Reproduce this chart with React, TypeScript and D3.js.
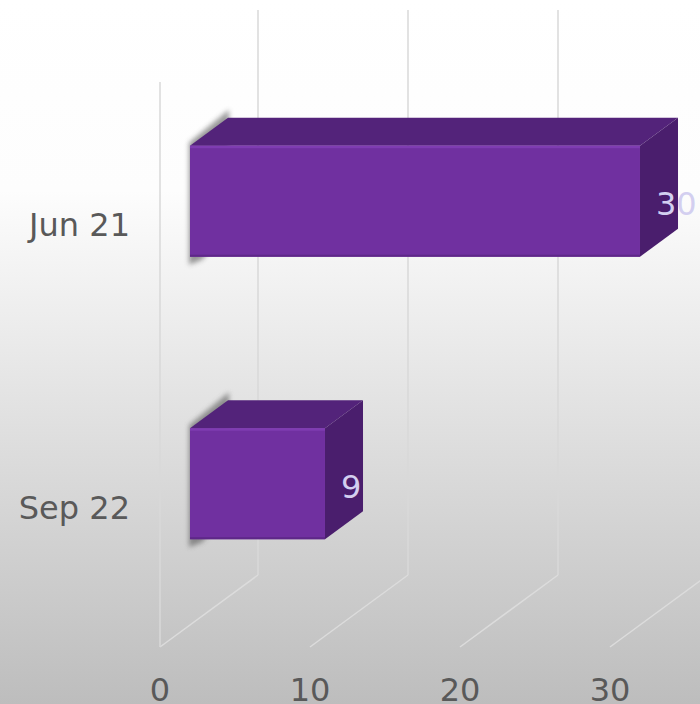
import React from "react";
import * as d3 from "d3";

const categories = ["Jun 21", "Sep 22"];
const values = [30, 9];
const tickValues = [0, 10, 20, 30];
const gridValues = [0, 10, 20, 30, 40];

const W = 700;
const H = 704;
const DX = 98;
const DY = -72;
const D0 = 0.306;
const D1 = 0.694;

export default function App() {
  const x = d3.scaleLinear().domain([0, 40]).range([160, 760]);
  const y = d3
    .scaleBand<string>()
    .domain(categories)
    .range([82, 647])
    .paddingInner(0.607)
    .paddingOuter(0.3035);
  const yTop = 82;
  const yBot = 647;
  const P = (v: number, d: number, yy: number): [number, number] => [x(v) + d * DX, yy + d * DY];
  const pts = (a: [number, number][]) => a.map((p) => p.join(",")).join(" ");
  const font = "'DejaVu Sans', Verdana, sans-serif";

  return (
    <svg
      width={W}
      height={H}
      style={{ position: "absolute", left: 0, top: 0, display: "block" }}
    >
      <defs>
        <linearGradient id="bg" x1="0" y1="0" x2="0" y2="1">
          <stop offset="0" stopColor="#ffffff" />
          <stop offset="0.27" stopColor="#fdfdfd" />
          <stop offset="1" stopColor="#bdbdbd" />
        </linearGradient>
        <filter id="blur" x="-50%" y="-50%" width="200%" height="200%">
          <feGaussianBlur stdDeviation="2.4" />
        </filter>
      </defs>
      <rect x={0} y={0} width={W} height={H} fill="url(#bg)" />

      {/* back wall gridlines */}
      {gridValues.map((v) => {
        const a = P(v, 1, yTop);
        const b = P(v, 1, yBot);
        return (
          <line key={"bw" + v} x1={a[0]} y1={a[1]} x2={b[0]} y2={b[1]} stroke="#d9d9d9" strokeWidth={1.5} />
        );
      })}
      {/* floor gridlines */}
      {gridValues.map((v) => {
        const a = P(v, 0, yBot);
        const b = P(v, 1, yBot);
        return (
          <line key={"fl" + v} x1={a[0]} y1={a[1]} x2={b[0]} y2={b[1]} stroke="#dcdcdc" strokeWidth={1.5} />
        );
      })}
      {/* left wall front edge */}
      <line x1={x(0)} y1={yTop} x2={x(0)} y2={yBot} stroke="#d9d9d9" strokeWidth={1.5} />

      {/* bars */}
      {categories.map((c, i) => {
        const v = values[i];
        const t = y(c)!;
        const b = t + y.bandwidth();
        const fTL = P(0, D0, t);
        const fTR = P(v, D0, t);
        const fBR = P(v, D0, b);
        const fBL = P(0, D0, b);
        const bTL = P(0, D1, t);
        const bTR = P(v, D1, t);
        const bBR = P(v, D1, b);
        const bBL = P(0, D1, b);
        const shadow: [number, number][] = [
          [fTL[0] - 1, fTL[1] - 3],
          [bTL[0] + 1, bTL[1] - 8],
          [bBL[0] + 1, bBL[1]],
          [fBL[0] + 12, fBL[1] + 3],
          [fBL[0] - 1, fBL[1] + 8],
        ];
        const lab = P(v, 0.5, 0);
        return (
          <g key={c}>
            <polygon points={pts(shadow)} fill="#555555" opacity={0.6} filter="url(#blur)" />
            <polygon points={pts([fTL, bTL, bTR, fTR])} fill="#53237a" />
            <polygon points={pts([fTR, bTR, bBR, fBR])} fill="#4a1e6d" />
            <rect x={fTL[0]} y={fTL[1]} width={fTR[0] - fTL[0]} height={fBL[1] - fTL[1]} fill="#7030a0" />
            <rect x={fTL[0]} y={fTL[1]} width={fTR[0] - fTL[0]} height={2.5} fill="#7f3cb2" />
            <rect x={fTL[0]} y={fBL[1] - 2} width={fTR[0] - fTL[0]} height={2} fill="#5e2788" />
            <text
              x={lab[0] - 3}
              y={(fTL[1] + fBL[1]) / 2 + 3}
              dominantBaseline="central"
              fill="#d3cff0"
              fontFamily={font}
              fontSize={32}
            >
              {v}
            </text>
          </g>
        );
      })}

      {/* category labels */}
      {categories.map((c) => (
        <text
          key={"cl" + c}
          x={130}
          y={y(c)! + y.bandwidth() / 2 + 2}
          textAnchor="end"
          dominantBaseline="central"
          fill="#595959"
          fontFamily={font}
          fontSize={32}
        >
          {c}
        </text>
      ))}

      {/* value axis labels */}
      {tickValues.map((v) => (
        <text
          key={"tk" + v}
          x={x(v)}
          y={690}
          textAnchor="middle"
          dominantBaseline="central"
          fill="#595959"
          fontFamily={font}
          fontSize={32}
        >
          {v}
        </text>
      ))}
    </svg>
  );
}
